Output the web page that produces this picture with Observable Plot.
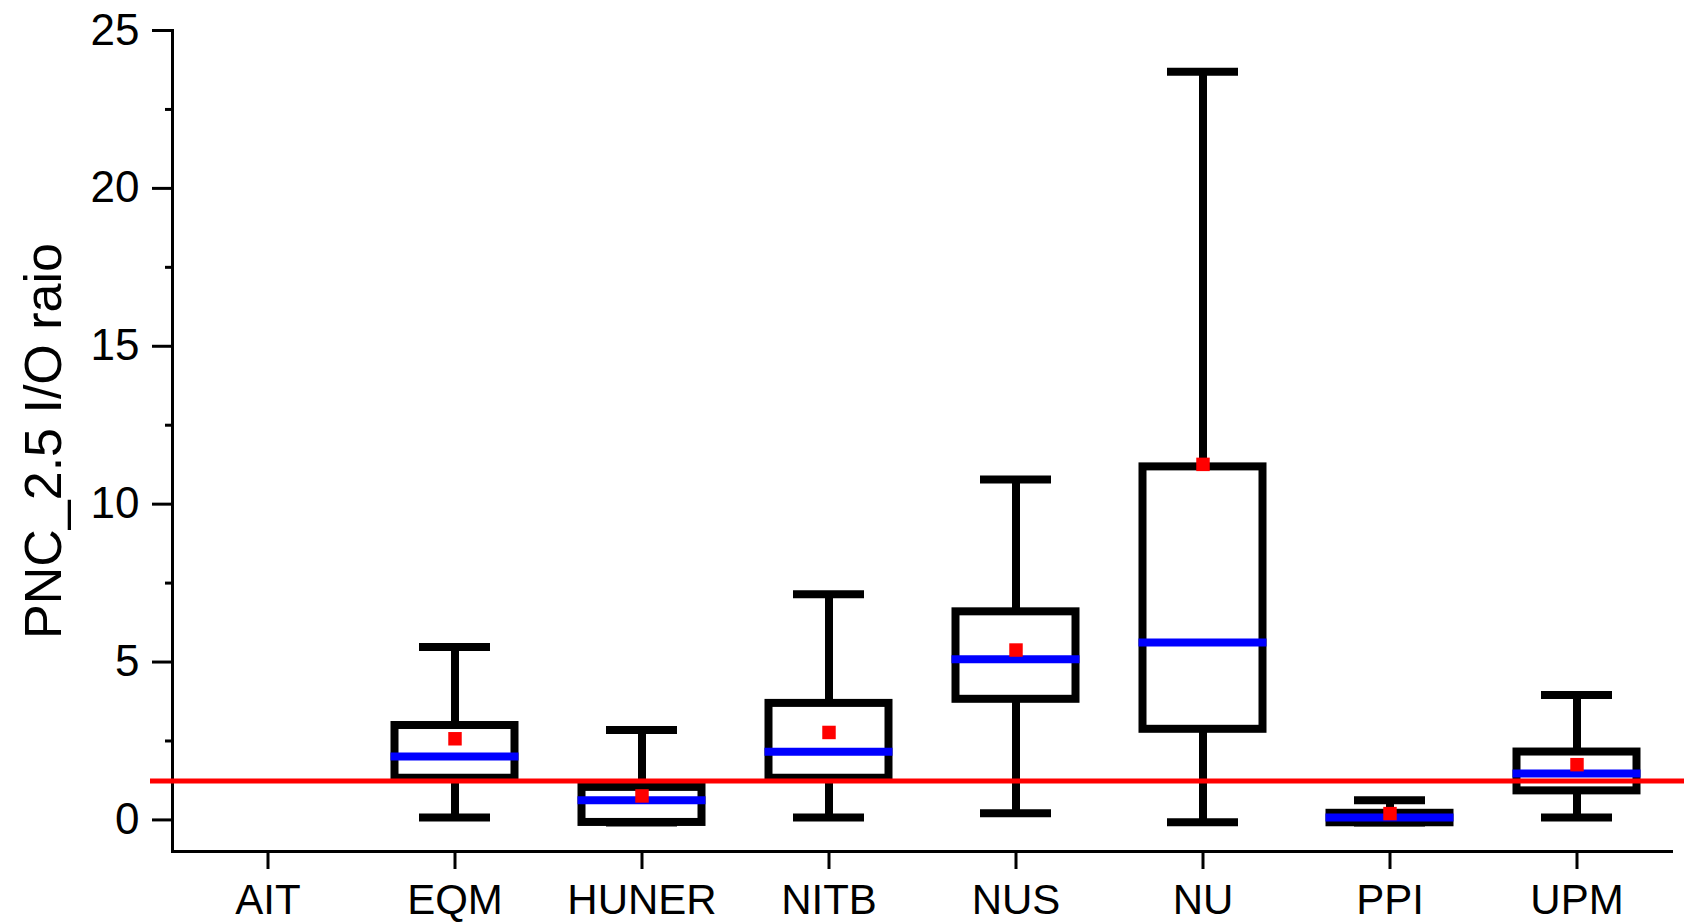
<!DOCTYPE html>
<html>
<head>
<meta charset="utf-8">
<script src="https://cdn.jsdelivr.net/npm/d3@7"></script>
<script src="https://cdn.jsdelivr.net/npm/@observablehq/plot@0.6"></script>
<style>
  html, body { margin: 0; padding: 0; background: #fff; }
  #chart svg { display: block; }
</style>
</head>
<body>
<div id="chart"></div>
<script>
// Sites on the x axis (AIT has no measurements)
const categories = ["AIT", "EQM", "HUNER", "NITB", "NUS", "NU", "PPI", "UPM"];

// Box-plot summaries of the PNC_2.5 indoor/outdoor ratio per site
const boxSites    = ["EQM", "HUNER", "NITB", "NUS", "NU", "PPI", "UPM"];
const whiskerLow  = [0.08, -0.08, 0.08, 0.21, -0.07, -0.08, 0.08];
const q1          = [1.32, -0.08, 1.32, 3.82, 2.87, -0.09, 0.92];
const median      = [2.01, 0.62, 2.16, 5.09, 5.62, 0.08, 1.47];
const q3          = [2.99, 1.03, 3.69, 6.59, 11.18, 0.21, 2.15];
const whiskerHigh = [5.48, 2.85, 7.15, 10.78, 23.69, 0.62, 3.96];
const mean        = [2.57, 0.76, 2.77, 5.38, 11.26, 0.20, 1.75];

// Reference ratio line
const threshold = 1.23;

// Axis ticks
const majorTicks = [0, 5, 10, 15, 20, 25];
const minorTicks = [2.5, 7.5, 12.5, 17.5, 22.5];
const yLabel = "PNC_2.5 I/O raio";

const rows = boxSites.map((site, i) => ({
  site,
  lo: whiskerLow[i],
  q1: q1[i],
  med: median[i],
  q3: q3[i],
  hi: whiskerHigh[i],
  mean: mean[i]
}));

const font = '"Liberation Sans", Arial, sans-serif';

const plot = Plot.plot({
  width: 1693,
  height: 923,
  marginLeft: 172,
  marginRight: 22,
  marginTop: 30,
  marginBottom: 72,
  style: { fontFamily: font, color: "black", background: "white" },
  x: { type: "band", domain: categories, padding: 0 },
  y: { domain: [-1, 25] },
  marks: [
    // axis lines
    Plot.frame({ anchor: "left", strokeWidth: 3 }),
    Plot.frame({ anchor: "bottom", strokeWidth: 3 }),
    Plot.axisY(majorTicks, { tickSize: 20, tickPadding: 13, fontSize: 44, strokeWidth: 3, label: null }),
    Plot.axisY(minorTicks, { tickSize: 7, strokeWidth: 3, tickFormat: () => "", label: null }),
    Plot.axisX({ tickSize: 18, tickPadding: 15, fontSize: 42, strokeWidth: 3, label: null }),

    // whiskers and caps
    Plot.ruleX(rows, { x: "site", y1: "lo", y2: "hi", stroke: "black", strokeWidth: 8 }),
    Plot.tickY(rows, { x: "site", y: "lo", stroke: "black", strokeWidth: 8, insetLeft: 58, insetRight: 58 }),
    Plot.tickY(rows, { x: "site", y: "hi", stroke: "black", strokeWidth: 8, insetLeft: 58, insetRight: 58 }),

    // interquartile boxes
    Plot.barY(rows, {
      x: "site", y1: "q1", y2: "q3",
      fill: "white", stroke: "black", strokeWidth: 8,
      insetLeft: 33.5, insetRight: 33.5, strokeLinejoin: "miter"
    }),

    // reference ratio
    Plot.ruleY([threshold], { stroke: "#ff0000", strokeWidth: 5, insetLeft: -22, insetRight: -13 }),

    // medians and means
    Plot.tickY(rows, { x: "site", y: "med", stroke: "#0000ff", strokeWidth: 8, insetLeft: 29.5, insetRight: 29.5 }),
    Plot.dot(rows, { x: "site", y: "mean", symbol: "square", r: 7.6, fill: "#ff0000", stroke: null }),

    // y-axis title, centred along the frame
    Plot.text([yLabel], {
      text: d => d, frameAnchor: "left", textAnchor: "middle", lineAnchor: "middle",
      rotate: -90, dx: -128, fontSize: 52, fill: "black"
    })
  ]
});

document.getElementById("chart").append(plot);
</script>
</body>
</html>
